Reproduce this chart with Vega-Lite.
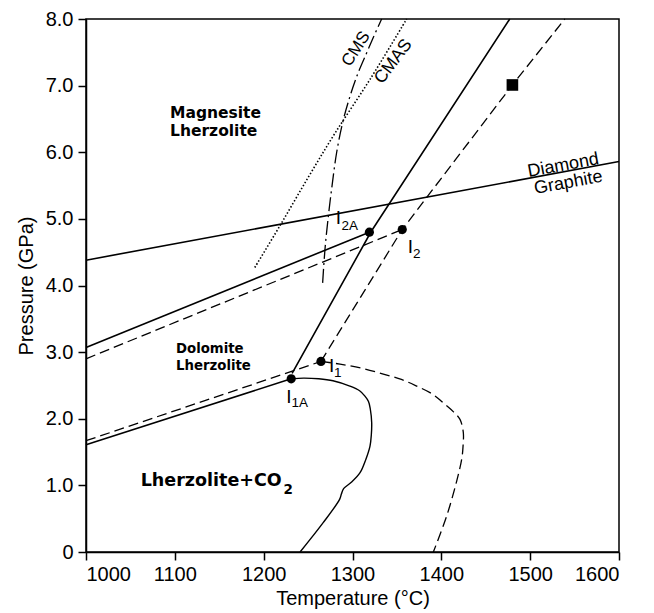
{
  "$schema": "https://vega.github.io/schema/vega-lite/v6.json",
  "width": 533,
  "height": 533,
  "autosize": {"type": "none"},
  "padding": {"left": 86, "top": 19, "right": 35, "bottom": 61},
  "background": "white",
  "config": {
    "view": {"stroke": "black", "strokeWidth": 1.5},
    "axis": {
      "grid": false,
      "domainColor": "black",
      "domainWidth": 1.5,
      "tickColor": "black",
      "tickWidth": 1.5,
      "tickSize": 8,
      "labelFont": "Liberation Sans",
      "labelFontSize": 20,
      "labelColor": "black",
      "titleFont": "Liberation Sans",
      "titleFontSize": 20,
      "titleFontWeight": "normal",
      "titleColor": "black"
    },
    "text": {"color": "black"}
  },
  "datasets": {
    "solid": [
      {"id": "dg", "o": 1, "T": 1000, "P": 4.38},
      {"id": "dg", "o": 2, "T": 1600, "P": 5.86},
      {"id": "up", "o": 1, "T": 1000, "P": 3.07},
      {"id": "up", "o": 2, "T": 1319, "P": 4.8},
      {"id": "lo", "o": 1, "T": 1000, "P": 1.61},
      {"id": "lo", "o": 2, "T": 1231, "P": 2.6},
      {"id": "st", "o": 1, "T": 1232, "P": 2.68},
      {"id": "st", "o": 2, "T": 1321, "P": 4.81},
      {"id": "st", "o": 3, "T": 1477, "P": 8.0}
    ],
    "solidcurve": [
      {"o": 1, "T": 1231, "P": 2.6},
      {"o": 2, "T": 1245, "P": 2.61},
      {"o": 3, "T": 1262, "P": 2.6},
      {"o": 4, "T": 1278, "P": 2.57},
      {"o": 5, "T": 1297, "P": 2.49},
      {"o": 6, "T": 1308, "P": 2.42},
      {"o": 7, "T": 1314, "P": 2.34},
      {"o": 8, "T": 1318, "P": 2.26},
      {"o": 9, "T": 1320, "P": 2.15},
      {"o": 10, "T": 1321.6, "P": 1.94},
      {"o": 11, "T": 1321.2, "P": 1.76},
      {"o": 12, "T": 1319.7, "P": 1.59},
      {"o": 13, "T": 1315, "P": 1.39},
      {"o": 14, "T": 1308.5, "P": 1.19},
      {"o": 15, "T": 1299, "P": 1.05},
      {"o": 16, "T": 1290, "P": 0.95},
      {"o": 17, "T": 1287.5, "P": 0.87},
      {"o": 18, "T": 1285.5, "P": 0.79},
      {"o": 19, "T": 1267, "P": 0.44},
      {"o": 20, "T": 1241, "P": 0.0}
    ],
    "dashed": [
      {"id": "ud", "o": 1, "T": 1000, "P": 2.9},
      {"id": "ud", "o": 2, "T": 1356, "P": 4.84},
      {"id": "ld", "o": 1, "T": 1000, "P": 1.67},
      {"id": "ld", "o": 2, "T": 1264.5, "P": 2.86},
      {"id": "sd", "o": 1, "T": 1264.5, "P": 2.86},
      {"id": "sd", "o": 2, "T": 1356, "P": 4.84},
      {"id": "sd", "o": 3, "T": 1480, "P": 7.01},
      {"id": "sd", "o": 4, "T": 1539, "P": 8.0}
    ],
    "dashedcurve": [
      {"o": 1, "T": 1264.5, "P": 2.86},
      {"o": 2, "T": 1286, "P": 2.82},
      {"o": 3, "T": 1310, "P": 2.76},
      {"o": 4, "T": 1334.7, "P": 2.67},
      {"o": 5, "T": 1355, "P": 2.59},
      {"o": 6, "T": 1372.2, "P": 2.49},
      {"o": 7, "T": 1390, "P": 2.37},
      {"o": 8, "T": 1402, "P": 2.24},
      {"o": 9, "T": 1414, "P": 2.1},
      {"o": 10, "T": 1421, "P": 1.99},
      {"o": 11, "T": 1424.7, "P": 1.8},
      {"o": 12, "T": 1424.5, "P": 1.6},
      {"o": 13, "T": 1423, "P": 1.4},
      {"o": 14, "T": 1417, "P": 1.05},
      {"o": 15, "T": 1406, "P": 0.54},
      {"o": 16, "T": 1391, "P": 0.0}
    ],
    "dotted": [
      {"o": 1, "T": 1190, "P": 4.27},
      {"o": 2, "T": 1218, "P": 4.89},
      {"o": 3, "T": 1250, "P": 5.62},
      {"o": 4, "T": 1280, "P": 6.28},
      {"o": 5, "T": 1320, "P": 7.1},
      {"o": 6, "T": 1361, "P": 8.0}
    ],
    "dashdot": [
      {"o": 1, "T": 1266.4, "P": 4.04},
      {"o": 2, "T": 1269, "P": 4.54},
      {"o": 3, "T": 1272.8, "P": 5.04},
      {"o": 4, "T": 1277, "P": 5.5},
      {"o": 5, "T": 1282.2, "P": 6.0},
      {"o": 6, "T": 1289, "P": 6.45},
      {"o": 7, "T": 1297.2, "P": 6.84},
      {"o": 8, "T": 1306, "P": 7.18},
      {"o": 9, "T": 1315.9, "P": 7.49},
      {"o": 10, "T": 1324, "P": 7.74},
      {"o": 11, "T": 1332.8, "P": 8.0}
    ],
    "points": [
      {"name": "I1A", "T": 1231, "P": 2.6},
      {"name": "I1", "T": 1264.5, "P": 2.86},
      {"name": "I2A", "T": 1319, "P": 4.8},
      {"name": "I2", "T": 1356, "P": 4.84}
    ],
    "square": [{"T": 1480, "P": 7.01}],
    "magnesite": [
      {"text": "Magnesite", "T": 1094.6, "P": 6.52},
      {"text": "Lherzolite", "T": 1094.6, "P": 6.245}
    ],
    "dolomite": [
      {"text": "Dolomite", "T": 1101.3, "P": 2.984},
      {"text": "Lherzolite", "T": 1101.3, "P": 2.729}
    ],
    "lherz": [{"text": "Lherzolite+CO", "T": 1061.6, "P": 0.985}],
    "lherzsub": [{"text": "2", "T": 1222.2, "P": 0.87}],
    "ilabels": [
      {"text": "I", "T": 1284.2, "P": 4.918},
      {"text": "I", "T": 1365.3, "P": 4.494},
      {"text": "I", "T": 1228.5, "P": 2.234},
      {"text": "I", "T": 1276.4, "P": 2.695}
    ],
    "isubs": [
      {"text": "2A", "T": 1287.6, "P": 4.828},
      {"text": "2", "T": 1368.1, "P": 4.419},
      {"text": "1A", "T": 1231.3, "P": 2.17},
      {"text": "1", "T": 1279.2, "P": 2.62}
    ],
    "dg": [
      {"text": "Diamond", "T": 1537.3, "P": 5.8},
      {"text": "Graphite", "T": 1543, "P": 5.54}
    ],
    "cms": [{"text": "CMS", "T": 1304, "P": 7.55}],
    "cmas": [{"text": "CMAS", "T": 1346, "P": 7.36}]
  },
  "encoding": {
    "x": {
      "field": "T", "type": "quantitative",
      "scale": {"domain": [1000, 1600], "nice": false, "zero": false},
      "axis": {"values": [1000, 1100, 1200, 1300, 1400, 1500, 1600], "format": "d", "title": "Temperature (°C)", "labelPadding": 4, "titlePadding": 4}
    },
    "y": {
      "field": "P", "type": "quantitative",
      "scale": {"domain": [0, 8], "nice": false, "zero": false},
      "axis": {"values": [0, 1, 2, 3, 4, 5, 6, 7, 8], "labelExpr": "datum.value == 0 ? '0' : format(datum.value, '.1f')", "title": "Pressure (GPa)", "labelPadding": 5, "titlePadding": 9}
    }
  },
  "layer": [
    {
      "data": {"name": "solid"},
      "mark": {"type": "line", "color": "black", "strokeWidth": 1.6},
      "encoding": {"detail": {"field": "id"}, "order": {"field": "o", "type": "quantitative"}}
    },
    {
      "data": {"name": "solidcurve"},
      "mark": {"type": "line", "color": "black", "strokeWidth": 1.4, "interpolate": "catmull-rom"},
      "encoding": {"order": {"field": "o", "type": "quantitative"}}
    },
    {
      "data": {"name": "dashed"},
      "mark": {"type": "line", "color": "black", "strokeWidth": 1.3, "strokeDash": [10, 5]},
      "encoding": {"detail": {"field": "id"}, "order": {"field": "o", "type": "quantitative"}}
    },
    {
      "data": {"name": "dashedcurve"},
      "mark": {"type": "line", "color": "black", "strokeWidth": 1.3, "strokeDash": [10, 5], "interpolate": "catmull-rom"},
      "encoding": {"order": {"field": "o", "type": "quantitative"}}
    },
    {
      "data": {"name": "dotted"},
      "mark": {"type": "line", "color": "black", "strokeWidth": 1.6, "strokeDash": [1.5, 2], "interpolate": "catmull-rom"},
      "encoding": {"order": {"field": "o", "type": "quantitative"}}
    },
    {
      "data": {"name": "dashdot"},
      "mark": {"type": "line", "color": "black", "strokeWidth": 1.3, "strokeDash": [14, 4, 2, 4], "interpolate": "catmull-rom"},
      "encoding": {"order": {"field": "o", "type": "quantitative"}}
    },
    {
      "data": {"name": "points"},
      "mark": {"type": "point", "shape": "circle", "filled": true, "color": "black", "opacity": 1, "size": 85}
    },
    {
      "data": {"name": "square"},
      "mark": {"type": "point", "shape": "square", "filled": true, "color": "black", "opacity": 1, "size": 135}
    },
    {
      "data": {"name": "magnesite"},
      "mark": {"type": "text", "font": "DejaVu Sans", "fontWeight": "bold", "fontSize": 15.5, "align": "left", "baseline": "alphabetic"},
      "encoding": {"text": {"field": "text"}}
    },
    {
      "data": {"name": "dolomite"},
      "mark": {"type": "text", "font": "DejaVu Sans", "fontWeight": "bold", "fontSize": 13.3, "align": "left", "baseline": "alphabetic"},
      "encoding": {"text": {"field": "text"}}
    },
    {
      "data": {"name": "lherz"},
      "mark": {"type": "text", "font": "DejaVu Sans", "fontWeight": "bold", "fontSize": 17.5, "align": "left", "baseline": "alphabetic"},
      "encoding": {"text": {"field": "text"}}
    },
    {
      "data": {"name": "lherzsub"},
      "mark": {"type": "text", "font": "DejaVu Sans", "fontWeight": "bold", "fontSize": 13.5, "align": "left", "baseline": "alphabetic"},
      "encoding": {"text": {"field": "text"}}
    },
    {
      "data": {"name": "ilabels"},
      "mark": {"type": "text", "font": "Liberation Sans", "fontSize": 19, "align": "center", "baseline": "alphabetic"},
      "encoding": {"text": {"field": "text"}}
    },
    {
      "data": {"name": "isubs"},
      "mark": {"type": "text", "font": "Liberation Sans", "fontSize": 13.5, "align": "left", "baseline": "alphabetic"},
      "encoding": {"text": {"field": "text"}}
    },
    {
      "data": {"name": "dg"},
      "mark": {"type": "text", "font": "Liberation Sans", "fontSize": 18, "align": "center", "baseline": "middle", "angle": -10.5},
      "encoding": {"text": {"field": "text"}}
    },
    {
      "data": {"name": "cms"},
      "mark": {"type": "text", "font": "Liberation Sans", "fontSize": 17, "align": "center", "baseline": "middle", "angle": -57},
      "encoding": {"text": {"field": "text"}}
    },
    {
      "data": {"name": "cmas"},
      "mark": {"type": "text", "font": "Liberation Sans", "fontSize": 17.5, "align": "center", "baseline": "middle", "angle": -53},
      "encoding": {"text": {"field": "text"}}
    }
  ]
}
